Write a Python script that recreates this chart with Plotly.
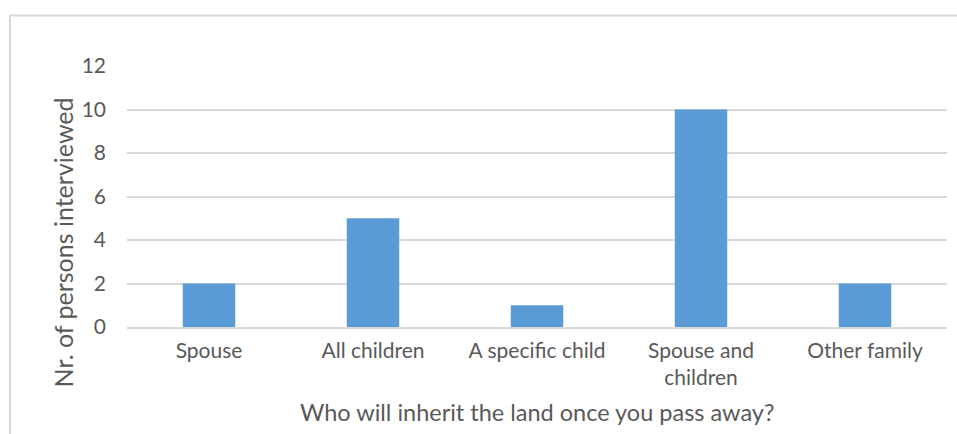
import plotly.graph_objects as go

categories = ["Spouse", "All children", "A specific child", "Spouse and<br>children", "Other family"]
persons = [2, 5, 1, 10, 2]
y_ticks = [0, 2, 4, 6, 8, 10, 12]

x_title = "Who will inherit the land once you pass away?"
y_title = "Nr. of persons interviewed"

text_color = "#595959"
font_family = "Lato, 'Open Sans', sans-serif"

fig = go.Figure(
    go.Bar(x=categories, y=persons, marker=dict(color="#5B9BD5", line=dict(width=0)))
)

fig.update_layout(
    width=957,
    height=434,
    margin=dict(l=127, r=10, t=66, b=107),
    paper_bgcolor="white",
    plot_bgcolor="white",
    bargap=0.68,
    showlegend=False,
    font=dict(family=font_family, color=text_color, size=21),
    shapes=[
        dict(
            type="rect", xref="paper", yref="paper",
            x0=-0.1427, x1=1.2, y0=-0.6, y1=1.1935,
            line=dict(color="#D9D9D9", width=2), layer="below",
        )
    ],
    annotations=[
        dict(
            text=x_title, xref="paper", yref="paper",
            x=0.5, y=-0.3257, xanchor="center", yanchor="middle",
            showarrow=False, font=dict(size=23.5, color=text_color),
        ),
        dict(
            text=y_title, xref="paper", yref="paper", textangle=-90,
            x=-0.0787, y=0.326, xanchor="center", yanchor="middle",
            showarrow=False, font=dict(size=25, color=text_color),
        ),
    ],
)

fig.update_xaxes(
    showgrid=False,
    showline=True,
    linecolor="#D9D9D9",
    linewidth=1.5,
    ticks="",
    ticklabelstandoff=4,
    tickfont=dict(size=21, color=text_color),
)

fig.update_yaxes(
    range=[0, 12],
    tickvals=y_ticks,
    showgrid=True,
    gridcolor="#D9D9D9",
    gridwidth=1.5,
    zeroline=False,
    ticks="",
    ticklabelstandoff=20,
    tickfont=dict(size=21, color=text_color),
)

fig.write_html("out.html")
